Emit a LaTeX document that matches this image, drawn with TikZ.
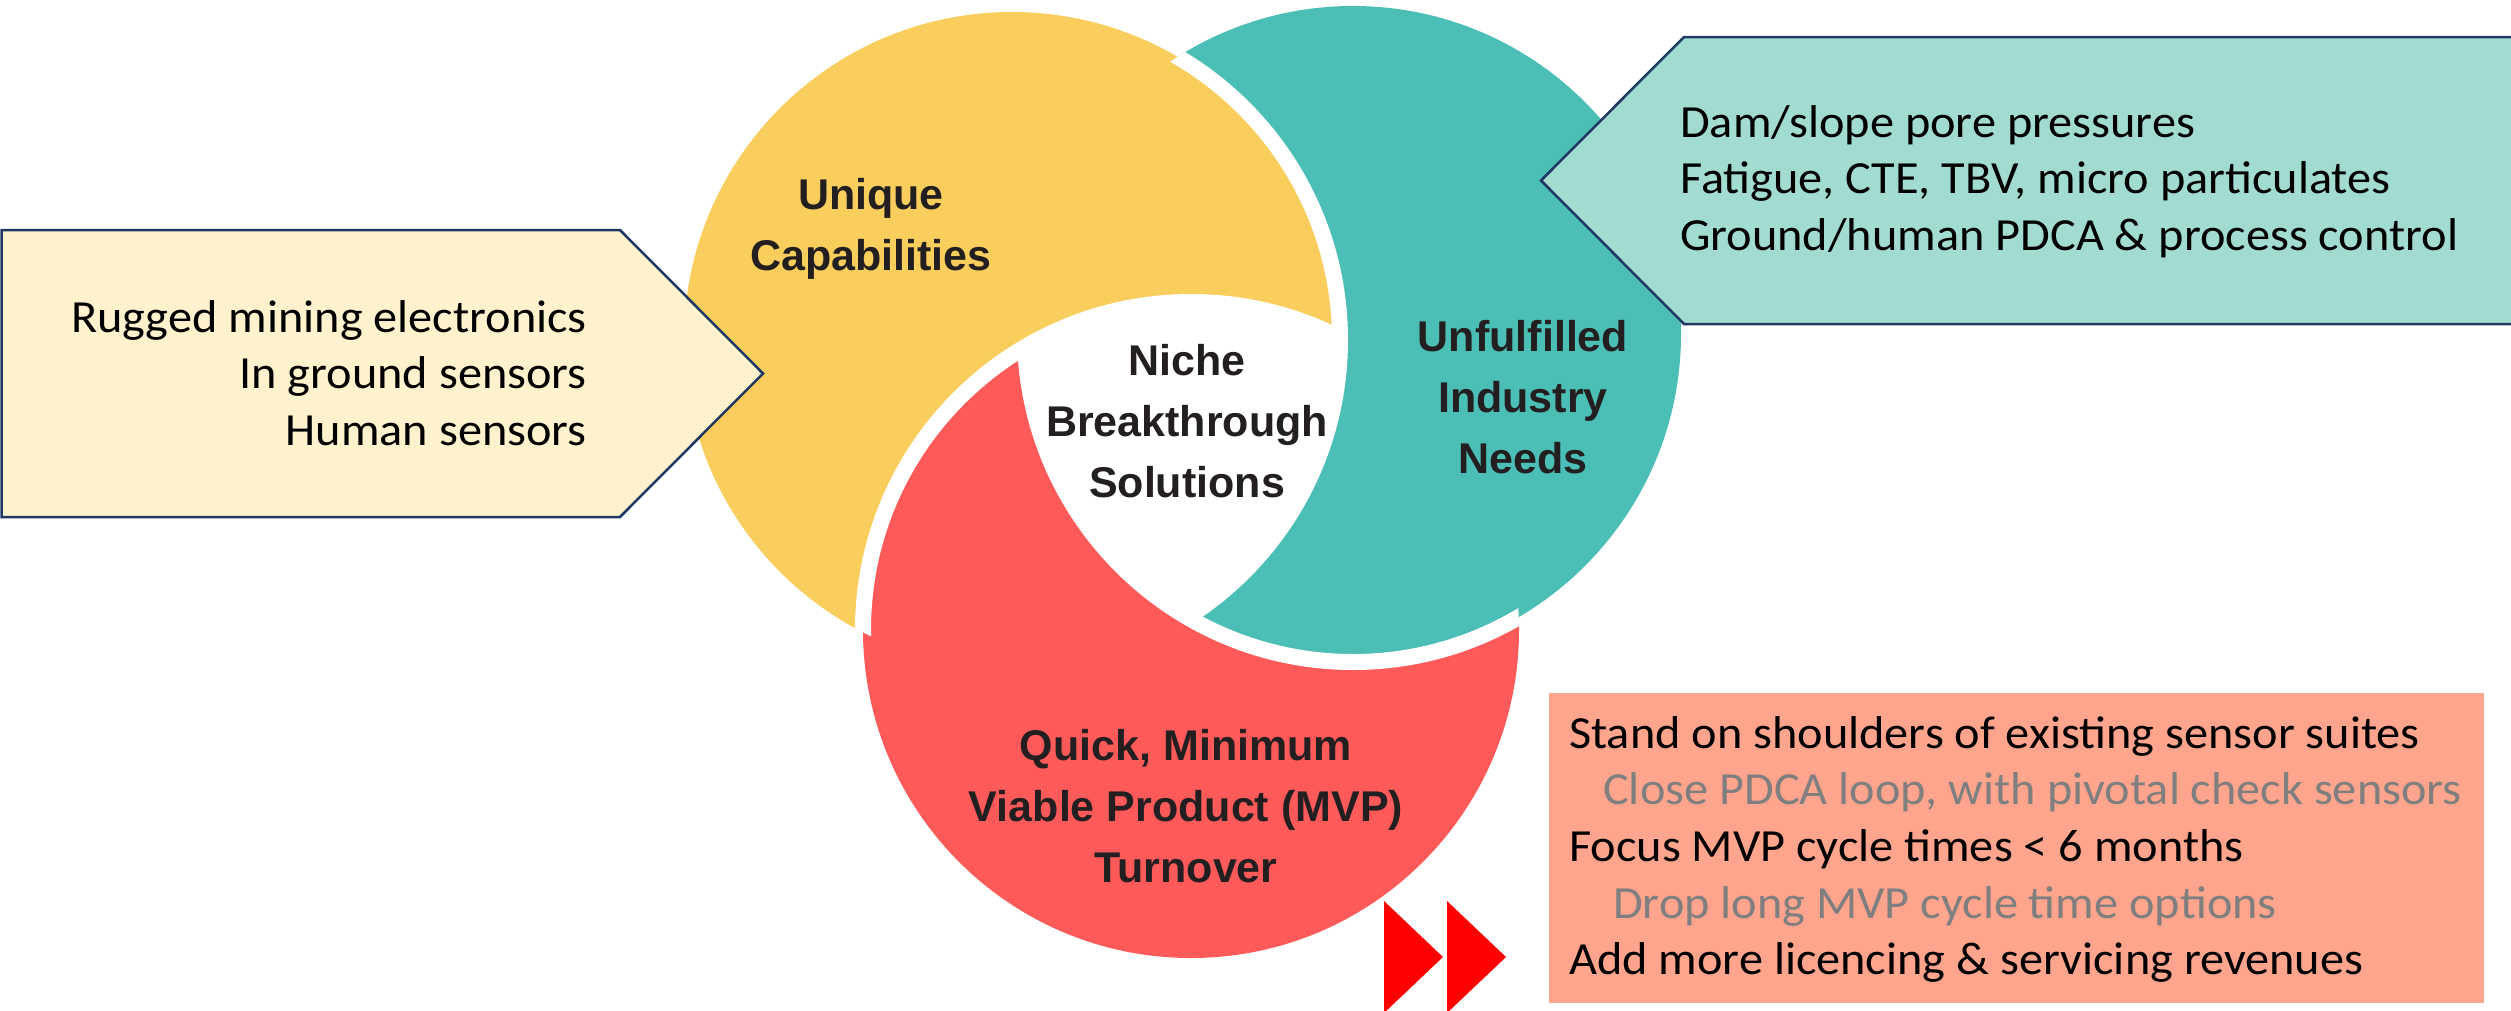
\documentclass[tikz,border=0pt]{standalone}
\usepackage{fontspec}
\newfontfamily\carl{Carlito}[FakeStretch=1.05]
\newfontfamily\lsans{Liberation Sans}
\definecolor{yellowc}{HTML}{F9CE5C}
\definecolor{tealc}{HTML}{4BBEB5}
\definecolor{redc}{HTML}{FF5A5A}
\definecolor{lyellow}{HTML}{FFF2CC}
\definecolor{lteal}{HTML}{A2DBD0}
\definecolor{pinkc}{HTML}{FFA48D}
\definecolor{navy}{HTML}{1F3864}
\definecolor{grayt}{HTML}{7F7F7F}
\definecolor{lbltext}{HTML}{231F20}
\def\clines#1{\vtop{\halign{\hfil##\hfil\cr#1\crcr}}}
\def\rlines#1{\vtop{\halign{\hfil##\cr#1\crcr}}}
\def\llines#1{\vtop{\halign{##\hfil\cr#1\crcr}}}
\begin{document}
\begin{tikzpicture}[x=1pt,y=-1pt,
  gap/.style={draw=white,line width=16pt},
  lbl/.style={font=\lsans\bfseries\fontsize{43}{61}\selectfont,text=lbltext,inner sep=0pt,anchor=base},
  txt/.style={font=\carl\fontsize{46}{56.7}\selectfont,text=black,inner sep=0pt},
  boxline/.style={draw=navy,line width=2.5pt,line join=miter}]
\useasboundingbox (0,0) rectangle (2511,1010);
\coordinate (Y) at (1012,340);
\coordinate (T) at (1353,334);
\coordinate (R) at (1191,630);
% red, then teal over it, then yellow outside red
\fill[redc] (R) circle[radius=328pt];
\fill[tealc] (T) circle[radius=328pt];
\begin{scope}[even odd rule]
  \clip (-20,-20) rectangle (2600,1100) (R) circle[radius=328pt];
  \fill[yellowc] (Y) circle[radius=328pt];
\end{scope}
\begin{scope}
  \clip (Y) circle[radius=328pt];
  \clip (T) circle[radius=328pt];
  \fill[white] (R) circle[radius=328pt];
\end{scope}
% white gaps
\begin{scope}
  \clip (Y) circle[radius=328pt];
  \draw[gap] (R) circle[radius=328pt];
\end{scope}
\begin{scope}
  \clip (R) circle[radius=328pt];
  \draw[gap] (T) circle[radius=328pt];
\end{scope}
\begin{scope}
  \clip (T) circle[radius=328pt];
  \draw[gap] (Y) circle[radius=328pt];
\end{scope}
% left pentagon
\fill[lyellow] (1.5,230) -- (620,230) -- (763,373.5) -- (620,517) -- (1.5,517) -- cycle;
\draw[boxline] (1.5,230) -- (620,230) -- (763,373.5) -- (620,517) -- (1.5,517) -- cycle;
% right pentagon
\fill[lteal] (2511,37) -- (1684,37) -- (1541,180.5) -- (1684,324) -- (2511,324) -- cycle;
\draw[boxline] (2511,37) -- (1684,37) -- (1541,180.5) -- (1684,324) -- (2511,324);
% pink box
\fill[pinkc] (1549,693) rectangle (2484,1003);
% red triangles
\fill[red] (1384,901) -- (1443,957) -- (1384,1013) -- cycle;
\fill[red] (1447,901) -- (1506,957) -- (1447,1013) -- cycle;
% labels
\node[lbl] (uc) at (871,209) {\clines{Unique\cr Capabilities}};
\node[lbl] (uin) at (1523,351) {\clines{Unfulfilled\cr Industry\cr Needs}};
\node[lbl] (nbs) at (1187,375) {\clines{Niche\cr Breakthrough\cr Solutions}};
\node[lbl] (mvp) at (1186,760) {\clines{Quick, Minimum\cr Viable Product (MVP)\cr Turnover}};
\node[txt,anchor=base east] (caps) at (587,332) {\rlines{Rugged mining electronics\cr In ground sensors\cr Human sensors}};
\node[txt,anchor=base west] (needs) at (1680,137) {\llines{Dam/slope pore pressures\cr Fatigue, CTE, TBV, micro particulates\cr Ground/human PDCA \& process control}};
\node[txt,anchor=base west] (acts) at (1569,748) {\llines{Stand on shoulders of existing sensor suites\cr
\hspace*{34pt}\textcolor{grayt}{Close PDCA loop, with pivotal check sensors}\cr
Focus MVP cycle times < 6 months\cr
\hspace*{44pt}\textcolor{grayt}{Drop long MVP cycle time options}\cr
Add more licencing \& servicing revenues}};
\end{tikzpicture}
\end{document}
